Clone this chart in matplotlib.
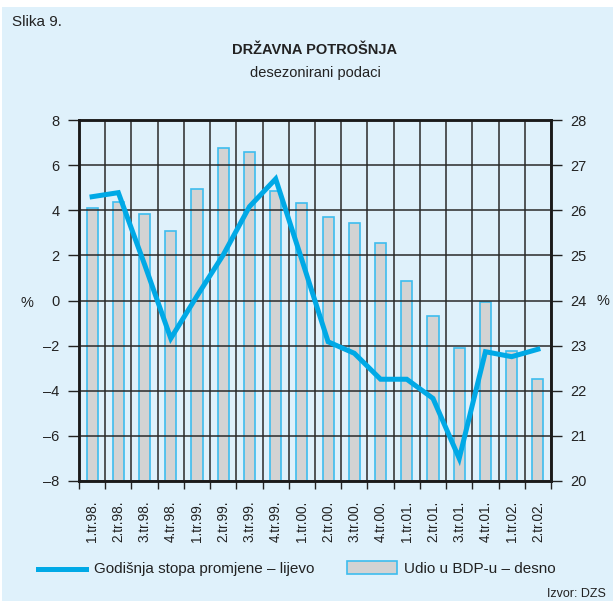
import matplotlib
matplotlib.use("Agg")
import matplotlib.pyplot as plt
from matplotlib.patches import Rectangle
from matplotlib.lines import Line2D
import numpy as np

plt.rcParams['font.family'] = ['Liberation Sans', 'DejaVu Sans']

categories = ["1.tr.98.", "2.tr.98.", "3.tr.98.", "4.tr.98.",
              "1.tr.99.", "2.tr.99.", "3.tr.99.", "4.tr.99.",
              "1.tr.00.", "2.tr.00.", "3.tr.00.", "4.tr.00.",
              "1.tr.01.", "2.tr.01.", "3.tr.01.", "4.tr.01.",
              "1.tr.02.", "2.tr.02."]
udio_bdp = [26.04, 26.19, 25.92, 25.54, 26.47, 27.39, 27.28, 26.43, 26.15,
            25.85, 25.71, 25.28, 24.44, 23.65, 22.94, 23.97, 22.88, 22.27]
stopa = [4.6, 4.78, 1.6, -1.68, 0.2, 2.02, 4.16, 5.39, 1.8,
         -1.83, -2.34, -3.49, -3.49, -4.34, -7.0, -2.27, -2.49, -2.16]
left_ticks = [-8, -6, -4, -2, 0, 2, 4, 6, 8]
left_labels = ["–8", "–6", "–4", "–2", "0", "2", "4", "6", "8"]
right_ticks = [20, 21, 22, 23, 24, 25, 26, 27, 28]

BG = "#dff1fb"
CYAN = "#00a9e6"
BAR_EDGE = "#3dbdee"
BAR_FACE = "#d3d3d3"
TXT = "#222222"
W, H = 613, 601

fig = plt.figure(figsize=(W / 100, H / 100), dpi=100)
fig.patch.set_facecolor("white")
fig.patches.append(Rectangle((2 / W, 0), 1, 1 - 7 / H, transform=fig.transFigure,
                             facecolor=BG, edgecolor="none", zorder=-10))

def fx(px):
    return px / W

def fy(py):
    return 1 - py / H

ax = fig.add_axes([fx(79), fy(481), (551 - 79) / W, (481 - 120) / H])
ax.set_facecolor(BG)
ax2 = ax.twinx()
ax2.patch.set_visible(False)
x = np.arange(len(categories))

# bars on right scale (ax)
ax.bar(x, udio_bdp, width=0.42, bottom=0, color=BAR_FACE, edgecolor=BAR_EDGE,
       linewidth=1.2, zorder=1)
ax.set_ylim(20, 28)
ax.set_xlim(-0.5, len(categories) - 0.5)
ax.yaxis.tick_right()
ax.set_yticks(right_ticks)
ax.set_yticklabels([str(t) for t in right_ticks])

ax.set_xticks(x)
ax.set_xticklabels(categories, rotation=90, fontsize=9.8, color=TXT)
ax.set_xticks(np.arange(-0.5, len(categories), 1.0), minor=True)
ax.tick_params(axis="x", which="major", length=0, pad=14)
ax.tick_params(axis="x", which="minor", length=6, width=1.0, direction="out", color=TXT)
ax.tick_params(axis="y", which="major", length=8, width=1.0, pad=6, labelsize=10.5,
               colors=TXT)
ax.set_axisbelow(False)
ax.grid(True, axis="y", which="major", color="#2a2a2a", linewidth=1.1, zorder=2)
ax.grid(True, axis="x", which="minor", color="#2a2a2a", linewidth=1.1, zorder=2)
ax.grid(False, axis="x", which="major")
for s in ax.spines.values():
    s.set_color("#1a1a1a")
    s.set_linewidth(1.8)

# line on left scale (ax2)
ax2.plot(x, stopa, color=CYAN, linewidth=3.6, solid_joinstyle="miter", zorder=5)
ax2.set_ylim(-8, 8)
ax2.yaxis.tick_left()
ax2.set_yticks(left_ticks)
ax2.set_yticklabels(left_labels)
ax2.tick_params(axis="y", length=8, width=1.0, pad=6, labelsize=10.5, colors=TXT)
for s in ax2.spines.values():
    s.set_color("#1a1a1a")
    s.set_linewidth(1.8)

# texts
fig.text(fx(12), fy(22), "Slika 9.", fontsize=11, ha="left", va="center", color=TXT)
fig.text(fx(315), fy(50), "DRŽAVNA POTROŠNJA", fontsize=10.5, fontweight="bold",
         ha="center", va="center", color=TXT)
fig.text(fx(315), fy(73), "desezonirani podaci", fontsize=10.5, ha="center",
         va="center", color=TXT)
fig.text(fx(27), fy(303), "%", fontsize=10.5, ha="center", va="center", color=TXT)
fig.text(fx(603), fy(301), "%", fontsize=10.5, ha="center", va="center", color=TXT)

# legend
fig.lines.append(Line2D([fx(38), fx(86)], [fy(569), fy(569)], transform=fig.transFigure,
                        color=CYAN, linewidth=3.6))
fig.text(fx(94), fy(569), "Godišnja stopa promjene – lijevo", fontsize=11,
         ha="left", va="center", color=TXT)
fig.patches.append(Rectangle((fx(347), fy(574)), (397 - 347) / W, 13 / H,
                             transform=fig.transFigure, facecolor=BAR_FACE,
                             edgecolor=BAR_EDGE, linewidth=1.2))
fig.text(fx(404), fy(569), "Udio u BDP-u – desno", fontsize=11,
         ha="left", va="center", color=TXT)
fig.text(fx(606), fy(588), "Izvor: DZS", fontsize=9, ha="right", va="top", color=TXT)

fig.savefig("out.png", dpi=100, facecolor=fig.get_facecolor())
